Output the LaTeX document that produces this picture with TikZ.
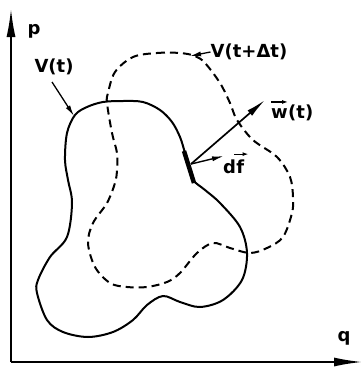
\documentclass[tikz,border=0pt]{standalone}
\usepackage{fontspec}
\setmainfont{DejaVu Sans}
\usetikzlibrary{arrows.meta}
\begin{document}
\begin{tikzpicture}[x=1pt,y=-1pt,
  lbl/.style={inner sep=0pt,font=\fontsize{18}{20}\selectfont\bfseries},
  axis/.style={line width=1.6pt,-{Latex[length=28pt,width=9pt]}},
  curve/.style={line width=2pt,line join=round},
  ptr/.style={line width=1.3pt,-{Latex[length=11pt,width=5pt]}},
  vec/.style={line width=1.7pt,-{Latex[length=20pt,width=7pt]}},
  over/.style={line width=1.2pt,-{Latex[length=6pt,width=4pt]}}]
\useasboundingbox (0,0) rectangle (362,367);
% axes
\coordinate (O) at (11,362);
\coordinate (ptop) at (11,9);
\coordinate (qend) at (362,362);
\draw[axis] (O) -- (ptop);
\draw[axis] (O) -- (qend);
\node[lbl] (p) at (34,31) {p};
\node[lbl] (q) at (344,338) {q};
% V(t) solid
\draw[curve] plot[smooth cycle,tension=0.55] coordinates {
 (103,102) (123,101) (143,102) (160,110) (172,122) (180,137) (185,153)
 (189,167) (193,180) (205,190) (220,203) (240,227) (247,253) (242,280)
 (223,300) (200,307) (180,302) (163,296) (147,305) (133,320) (113,332)
 (88,337) (63,332) (47,320) (37,293) (38,280) (50,257) (67,237) (72,203)
 (68,180) (65,160) (67,133) (75,115) (87,107)};
% V(t+dt) dashed
\draw[curve,dash pattern=on 8pt off 5pt] plot[smooth cycle,tension=0.55] coordinates {
 (133,57) (157,53) (180,53) (195,56) (205,63) (220,83) (230,103) (237,120)
 (253,140) (277,157) (290,177) (293,197) (292,213) (283,237) (267,248)
 (250,253) (230,248) (213,243) (197,253) (180,273) (167,282) (147,287)
 (127,287) (110,283) (95,267) (88,243) (93,223) (107,203) (115,183)
 (117,170) (117,153) (112,133) (107,103) (108,93) (115,72)};
% surface element
\coordinate (s1) at (184,151);
\coordinate (s2) at (194,183);
\draw[line width=4.5pt] (s1) -- (s2);
% labels and pointers
\node[lbl] (Vt) at (54,67) {V(t)};
\coordinate (Vtt) at (74,116);
\draw[ptr] (52,82) -- (Vtt);
\node[lbl] (Vdt) at (249,52) {V(t+Δt)};
\coordinate (Vdtt) at (190,56);
\draw[ptr] (Vdt.west) -- (Vdtt);
% vectors
\coordinate (o) at (191,164);
\coordinate (wtip) at (265,100);
\coordinate (dftip) at (224,156);
\draw[vec] (o) -- (wtip);
\draw[line width=1.4pt,-{Latex[length=12pt,width=5pt]}] (o) -- (dftip);
\node[lbl,anchor=base west] (wl) at (271,118) {w};
\node[lbl,anchor=base west] (wt) at (wl.base east) {(t)};
\draw[over] ([yshift=6pt]wl.north west) -- ([yshift=6pt]wl.north east);
\node[lbl,anchor=base west] (dl) at (223,173) {d};
\node[lbl,anchor=base west] (fl) at (dl.base east) {f};
\draw[over] ([xshift=-2pt,yshift=5pt]fl.north west) -- ([xshift=4pt,yshift=5pt]fl.north east);
\end{tikzpicture}
\end{document}
